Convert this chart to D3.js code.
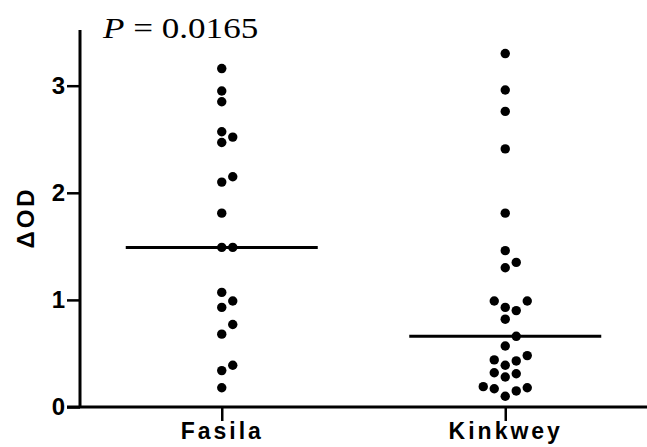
<!DOCTYPE html>
<html>
<head>
<meta charset="utf-8">
<script src="https://cdn.jsdelivr.net/npm/d3@7"></script>
<style>
  body { margin: 0; background: #fff; }
  svg { display: block; }
</style>
</head>
<body>
<div id="chart"></div>
<script>
// values
const groups = ["Fasila", "Kinkwey"];
const fasila = [3.16, 2.95, 2.85, 2.57, 2.52, 2.47, 2.15, 2.10, 1.81, 1.49, 1.49,
                1.07, 0.99, 0.93, 0.77, 0.68, 0.39, 0.34, 0.18];
const kinkwey = [3.30, 2.96, 2.76, 2.41, 1.81, 1.46, 1.35, 1.30, 0.99, 0.99, 0.93,
                 0.90, 0.82, 0.66, 0.57, 0.48, 0.44, 0.43, 0.39, 0.32, 0.31, 0.28,
                 0.19, 0.18, 0.17, 0.15, 0.10];
const yTicks = [0, 1, 2, 3];
const pLabel = "0.0165";

let width = 647,
    height = 447,
    margin = ({ top: 30, right: 0, bottom: 40, left: 80 });

const svg = d3.select("#chart")
  .append("svg")
  .attr("width", width)
  .attr("height", height);

let x = d3.scalePoint()
  .domain(groups)
  .range([margin.left, width - margin.right])
  .padding(0.5);

let y = d3.scaleLinear()
  .domain([0, 3.52])
  .range([height - margin.bottom, margin.top]);

const font = "Liberation Sans, Arial, sans-serif";

// y axis
let yAxis = svg.append("g")
  .attr("transform", `translate(${margin.left},0)`)
  .call(d3.axisLeft(y).tickValues(yTicks).tickSize(13).tickPadding(2).tickFormat(d3.format("d")));
yAxis.select(".domain").attr("stroke-width", 3).attr("d", `M0,${y(3.52)}V${y(0)}`);
yAxis.selectAll(".tick line").attr("stroke-width", 2.5);
yAxis.selectAll(".tick text")
  .attr("font-family", font).attr("font-weight", "bold").attr("font-size", 24).attr("fill", "#000");

// x axis
let xAxis = svg.append("g")
  .attr("transform", `translate(0,${y(0)})`)
  .call(d3.axisBottom(x).tickSize(14).tickPadding(2));
xAxis.select(".domain").attr("stroke-width", 3).attr("d", `M${margin.left - 13},0H${width}`);
xAxis.selectAll(".tick line").attr("stroke-width", 2.5);
xAxis.selectAll(".tick text")
  .attr("font-family", font).attr("font-weight", "bold").attr("font-size", 23)
  .attr("letter-spacing", 3).attr("fill", "#000");

// y label
svg.append("text")
  .attr("transform", `translate(34,${y(1.77)}) rotate(-90)`)
  .attr("text-anchor", "middle")
  .attr("font-family", font)
  .attr("font-weight", "bold")
  .attr("font-size", 24)
  .attr("letter-spacing", 3)
  .text("ΔOD");

// P value
let pt = svg.append("text")
  .attr("transform", "translate(103,38) scale(1.17,1)")
  .attr("font-family", "Liberation Serif, Times New Roman, serif")
  .attr("font-size", 30);
pt.append("tspan").attr("font-style", "italic").text("P");
pt.append("tspan").text(" = " + pLabel);

// simple beeswarm: each dot takes the first free slot next to the centre line
const r = 4.7, slotW = 11, minDist = 10;
function swarm(vals) {
  let placed = [];
  let sorted = vals.slice().sort((a, b) => a - b);
  for (let v of sorted) {
    let py = y(v);
    for (let s of [0, 1, -1, 2, -2, 3, -3]) {
      let ok = placed.every(p => Math.hypot((p.s - s) * slotW, p.y - py) >= minDist);
      if (ok) { placed.push({ v: v, y: py, s: s }); break; }
    }
  }
  return placed;
}

let series = [fasila, kinkwey];
series.forEach((vals, i) => {
  let cx = x(groups[i]);
  let med = d3.median(vals);

  svg.append("line")
    .attr("x1", cx - 96).attr("x2", cx + 96)
    .attr("y1", y(med)).attr("y2", y(med))
    .attr("stroke", "#000")
    .attr("stroke-width", 3);

  svg.append("g")
    .selectAll("circle")
    .data(swarm(vals))
    .join("circle")
    .attr("cx", d => cx + d.s * slotW)
    .attr("cy", d => d.y)
    .attr("r", r)
    .attr("fill", "#000");
});
</script>
</body>
</html>
